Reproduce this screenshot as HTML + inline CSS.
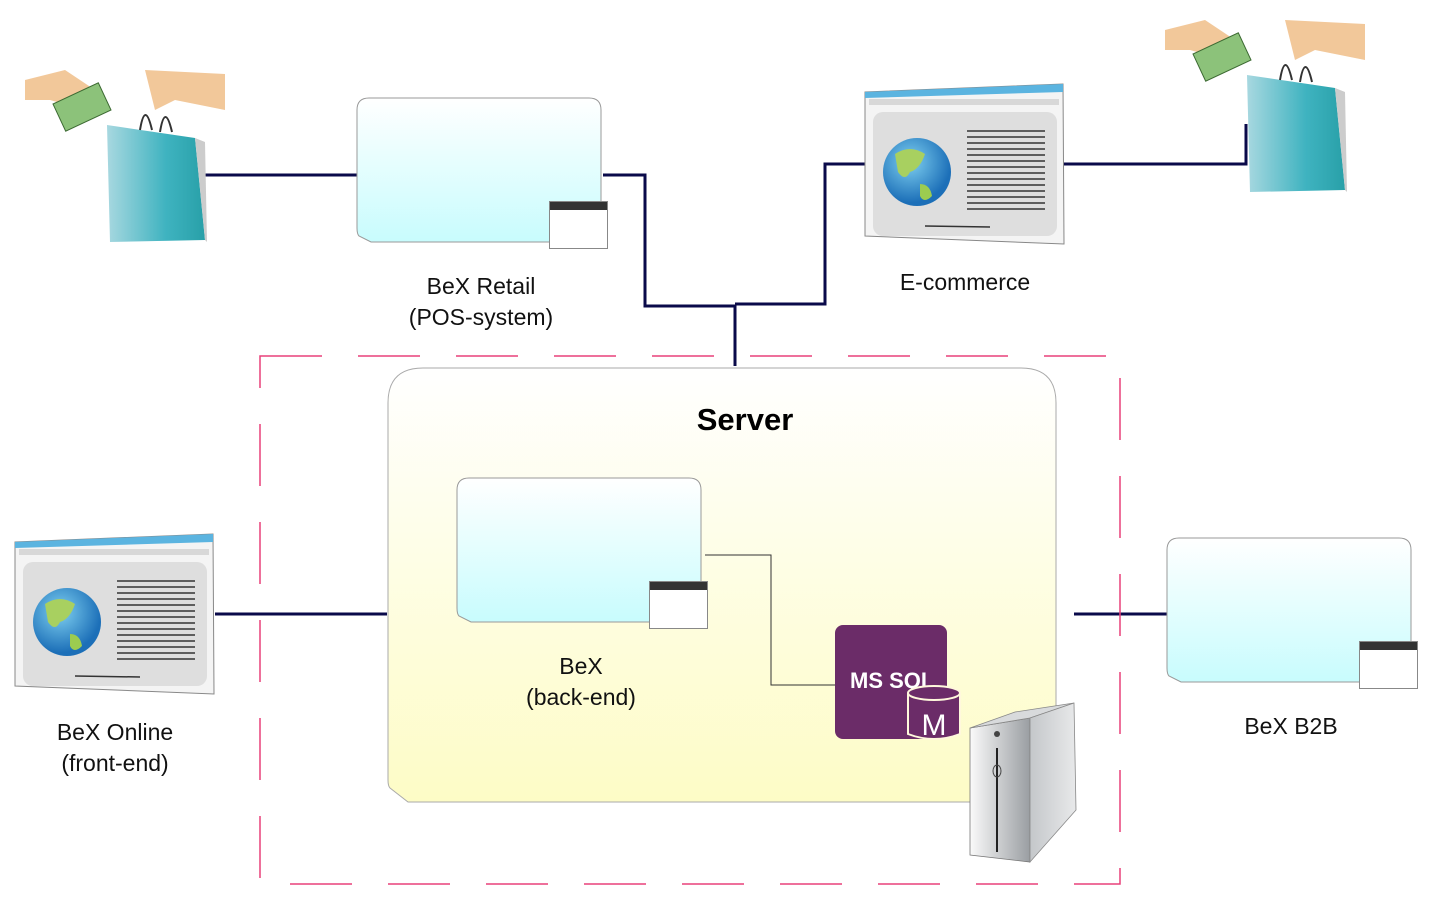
<!DOCTYPE html>
<html><head><meta charset="utf-8"><style>
html,body{margin:0;padding:0;background:#fff;}
svg{display:block}
text{font-family:"Liberation Sans",sans-serif;}
</style></head><body>
<svg width="1430" height="900" viewBox="0 0 1430 900" xmlns="http://www.w3.org/2000/svg">
<defs>
<linearGradient id="cy" x1="0" y1="0" x2="0" y2="1"><stop offset="0" stop-color="#ffffff"/><stop offset="1" stop-color="#c8fcfd"/></linearGradient>
<linearGradient id="yl" x1="0" y1="0" x2="0" y2="1"><stop offset="0" stop-color="#ffffff"/><stop offset="1" stop-color="#fdfcc6"/></linearGradient>
<linearGradient id="bag" x1="0" y1="0" x2="1" y2="0"><stop offset="0" stop-color="#a8d8e0"/><stop offset="0.6" stop-color="#3fb3c0"/><stop offset="1" stop-color="#28a0a8"/></linearGradient>
<linearGradient id="tw" x1="0" y1="0" x2="1" y2="0"><stop offset="0" stop-color="#fafafa"/><stop offset="1" stop-color="#9a9ea2"/></linearGradient>
<linearGradient id="tw2" x1="0" y1="0" x2="1" y2="0"><stop offset="0" stop-color="#c4c7ca"/><stop offset="1" stop-color="#e8e9ea"/></linearGradient>
<radialGradient id="gl" cx="0.4" cy="0.35" r="0.6"><stop offset="0" stop-color="#7fd0f0"/><stop offset="1" stop-color="#1c6fb8"/></radialGradient>
<g id="browser">
 <path d="M0 8 L198 0 L199 160 L0 152 Z" fill="#f4f4f4" stroke="#888" stroke-width="1"/>
 <path d="M0 8 L198 0 L198 8 L0 14 Z" fill="#5bb4e0"/>
 <rect x="4" y="15" width="190" height="6" fill="#d8d8d8"/>
 <rect x="8" y="28" width="184" height="124" rx="10" fill="#dedede"/>
 <circle cx="52" cy="88" r="34" fill="url(#gl)"/>
 <path d="M30 70 q15 -10 30 0 q-5 15 -15 18 q-5 10 -12 0 z" fill="#a8d060"/>
 <path d="M55 100 q10 0 12 12 q-8 8 -12 0 z" fill="#9ccc50"/>
 <g stroke="#333" stroke-width="1.5">
  <line x1="102" y1="47" x2="180" y2="47"/><line x1="102" y1="53" x2="180" y2="53"/><line x1="102" y1="59" x2="180" y2="59"/><line x1="102" y1="65" x2="180" y2="65"/><line x1="102" y1="71" x2="180" y2="71"/><line x1="102" y1="77" x2="180" y2="77"/><line x1="102" y1="83" x2="180" y2="83"/><line x1="102" y1="89" x2="180" y2="89"/><line x1="102" y1="95" x2="180" y2="95"/><line x1="102" y1="101" x2="180" y2="101"/><line x1="102" y1="107" x2="180" y2="107"/><line x1="102" y1="113" x2="180" y2="113"/><line x1="102" y1="119" x2="180" y2="119"/><line x1="102" y1="125" x2="180" y2="125"/>
  <line x1="60" y1="142" x2="125" y2="143"/>
 </g>
</g>
<g id="box">
 <path d="M12 0 H232 Q244 0 244 12 V144 H14 L2 138 Q0 136 0 130 V12 Q0 0 12 0 Z" fill="url(#cy)" stroke="#999" stroke-width="1"/>
</g>
<g id="win">
 <rect x="0.5" y="0.5" width="58" height="47" fill="#fff" stroke="#888"/>
 <rect x="1" y="1" width="57" height="8" fill="#333"/>
</g>
<g id="shop">
 <path d="M0 10 L40 0 L70 20 L60 40 L25 30 L0 30 Z" fill="#f2c89a"/>
 <rect x="32" y="22" width="50" height="30" fill="#8cc27a" stroke="#3c6a32" transform="rotate(-25 57 37)"/>
 <path d="M120 0 L200 4 L200 40 L150 30 L130 40 Z" fill="#f2c89a"/>
 <path d="M82 55 L170 68 L180 170 L85 172 Z" fill="url(#bag)"/>
 <path d="M170 68 L180 72 L182 172 L180 170 Z" fill="#ccc"/>
 <path d="M115 60 q5 -30 12 0 M135 62 q5 -30 12 0" stroke="#333" stroke-width="2" fill="none"/>
</g>
</defs>

<g stroke="#0a0a4a" stroke-width="3" fill="none">
 <path d="M205 175 H357"/>
 <path d="M603 175 H645 V306 H735 V366"/>
 <path d="M735 304 H825 V164 H866"/>
 <path d="M1064 164 H1246 V124"/>
 <path d="M215 614 H387"/>
 <path d="M1074 614 H1167"/>
</g>

<rect x="260" y="356" width="860" height="528" fill="none" stroke="#e8407a" stroke-width="1.5" stroke-dasharray="62,36"/>

<path d="M423 368 H1021 Q1056 368 1056 403 V802 H408 L390 788 Q388 786 388 780 V403 Q388 368 423 368 Z" fill="url(#yl)" stroke="#aaa" stroke-width="1"/>
<text x="745" y="430" font-size="31" font-weight="bold" text-anchor="middle" fill="#000">Server</text>

<path d="M705 555 H771 V685 H835" stroke="#333" stroke-width="1" fill="none"/>

<use href="#box" x="357" y="98"/><use href="#win" x="549" y="201"/>
<use href="#box" x="457" y="478"/><use href="#win" x="649" y="581"/>
<use href="#box" x="1167" y="538"/><use href="#win" x="1359" y="641"/>

<use href="#browser" x="865" y="84"/>
<use href="#browser" x="15" y="534"/>

<use href="#shop" x="25" y="70"/>
<use href="#shop" x="1165" y="20"/>

<rect x="835" y="625" width="112" height="114" rx="8" fill="#6b2c68"/>
<text x="850" y="688" font-size="22" font-weight="bold" fill="#fff">MS SQL</text>
<path d="M908 693 V734 Q934 744 960 734 V693" fill="#6b2c68" stroke="#fff8dc" stroke-width="2"/>
<ellipse cx="934" cy="693" rx="26" ry="7" fill="#6b2c68" stroke="#fff8dc" stroke-width="2"/>
<text x="934" y="735" font-size="30" fill="#fff" text-anchor="middle">M</text>

<path d="M970 728 L1030 718 L1030 862 L970 855 Z" fill="url(#tw)" stroke="#777" stroke-width="0.8"/>
<path d="M970 728 L1030 718 L1074 703 L1015 712 Z" fill="#d8dadc" stroke="#888" stroke-width="0.8"/>
<path d="M1030 718 L1074 703 L1076 810 L1030 862 Z" fill="url(#tw2)" stroke="#888" stroke-width="0.8"/>
<circle cx="997" cy="734" r="3" fill="#444"/>
<line x1="997" y1="748" x2="997" y2="852" stroke="#222" stroke-width="2"/>
<ellipse cx="997" cy="771" rx="4" ry="6" fill="none" stroke="#444"/>

<g font-size="23" fill="#111" text-anchor="middle">
 <text x="481" y="294">BeX Retail</text>
 <text x="481" y="325">(POS-system)</text>
 <text x="965" y="290">E-commerce</text>
 <text x="581" y="674">BeX</text>
 <text x="581" y="705">(back-end)</text>
 <text x="115" y="740">BeX Online</text>
 <text x="115" y="771">(front-end)</text>
 <text x="1291" y="734">BeX B2B</text>
</g>
</svg>
</body></html>
